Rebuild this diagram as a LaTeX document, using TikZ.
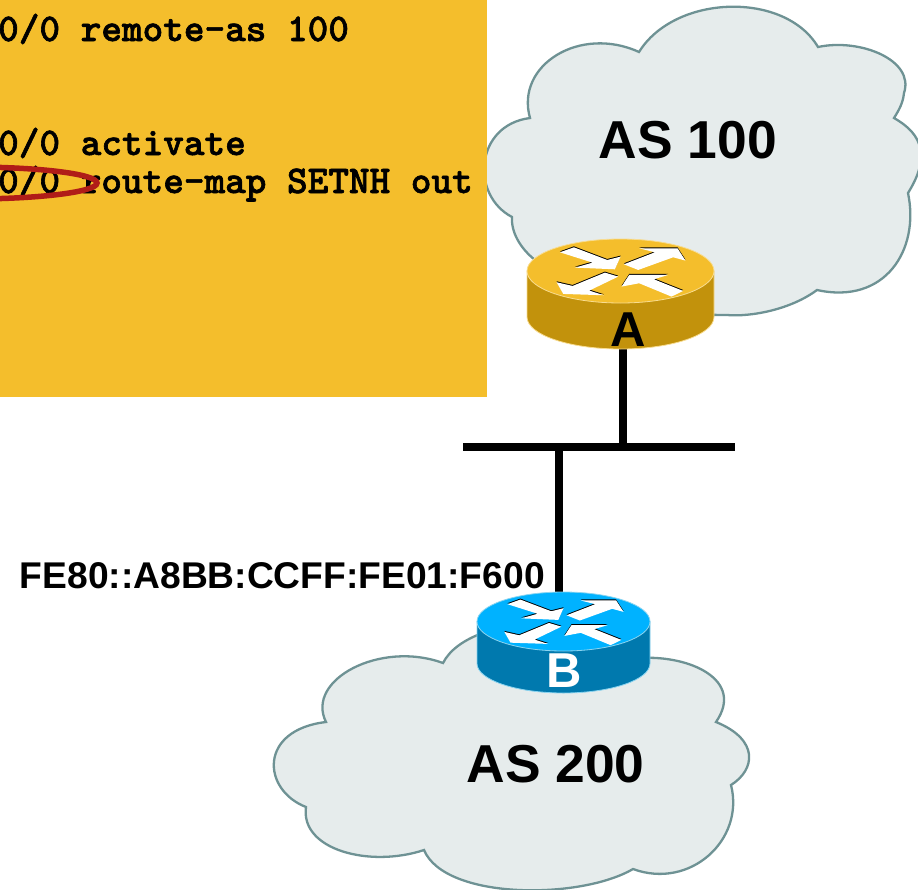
\documentclass[tikz,border=0pt]{standalone}
\usepackage{fontspec}
\setmainfont{Liberation Sans}
\newfontfamily\cmdfont{lmmonolt10-bold.otf}[FakeBold=1.6]
\definecolor{cloudfill}{HTML}{E6ECEC}
\definecolor{cloudline}{HTML}{6E9294}
\definecolor{panelyellow}{HTML}{F4BE2C}
\definecolor{routerAside}{HTML}{C2920C}
\definecolor{routerAedge}{HTML}{F8DC90}
\definecolor{routerBtop}{HTML}{00B2FF}
\definecolor{routerBside}{HTML}{0079AE}
\definecolor{routerBedge}{HTML}{8AD4F0}
\definecolor{ringred}{HTML}{B01C18}
\tikzset{
  cloudshape/.style={fill=cloudfill,draw=cloudline,line width=2.3pt},
  wire/.style={line width=7.5pt},
  bigtext/.style={font=\bfseries\fontsize{53.4}{60}\selectfont,anchor=base,inner sep=0pt},
  routertext/.style={font=\bfseries\fontsize{49}{55}\selectfont,anchor=base,inner sep=0pt},
  cmdtext/.style={font=\cmdfont\fontsize{39.3}{45}\selectfont,anchor=base west,inner sep=0pt},
}
% #1 centre x, #2 centre y, #3 rx, #4 ry, #5 height, #6 top, #7 side, #8 edge
\newcommand{\routerdrum}[8]{
  \path[fill=#7,draw=#8,line width=.8pt] (#1-#3,#2) -- (#1-#3,#2+#5) arc[start angle=180,end angle=360,x radius=#3pt,y radius=#4pt] -- (#1+#3,#2) -- cycle;
  \path[fill=#6,draw=#8,line width=.8pt] (#1,#2) ellipse[x radius=#3pt,y radius=#4pt];
}
\newcommand{\routerarrows}{
  \foreach \col/\off in {black/-3,white/0}{
    \begin{scope}[yshift=-\off*.33pt]
    \fill[\col] (180,97) -- (222,82) -- (322,120) -- (362,110) -- (345,148) -- (225,143) -- (278,128) -- cycle;
    \fill[\col] (372,133) -- (465,97) -- (418,85) -- (533,85) -- (557,122) -- (520,112) -- (415,150) -- cycle;
    \fill[\col] (355,170) -- (315,158) -- (218,198) -- (170,187) -- (190,222) -- (312,226) -- (268,212) -- cycle;
    \fill[\col] (365,200) -- (388,165) -- (505,165) -- (462,178) -- (550,213) -- (515,230) -- (418,190) -- cycle;
    \end{scope}
  }
}
\begin{document}
\begin{tikzpicture}[x=1pt,y=-1pt]
\clip[use as bounding box] (0,0) rectangle (918,889);
% clouds
\draw[cloudshape] (639,52) .. controls (675,-6) and (785,-9) .. (818,47)
  .. controls (860,38) and (915,60) .. (904,93) .. controls (903,103) and (899,110) .. (894,118)
  .. controls (915,130) and (935,150) .. (908,193)
  .. controls (920,250) and (885,305) .. (817,290)
  .. controls (790,310) and (750,317) .. (727,315) .. controls (640,315) and (560,295) .. (535,260)
  .. controls (520,248) and (511,232) .. (512,217)
  .. controls (470,195) and (475,125) .. (530,118)
  .. controls (515,65) and (580,25) .. (639,52) -- cycle;
\draw[cloudshape] (443,663) .. controls (470,610) and (620,610) .. (640,658)
  .. controls (690,655) and (745,680) .. (716,722)
  .. controls (760,740) and (755,770) .. (731,785)
  .. controls (745,840) and (690,890) .. (633,869)
  .. controls (580,900) and (445,900) .. (424,850)
  .. controls (370,868) and (300,850) .. (306,807)
  .. controls (262,790) and (258,730) .. (326,722)
  .. controls (305,680) and (380,640) .. (443,663) -- cycle;
\node[bigtext] (as100) at (688,158) {AS 100};
\node[bigtext] (as200) at (555.5,782) {AS 200};
% config panel
\fill[panelyellow] (0,0) rectangle (487,397);
\node[cmdtext] (cmdremote) at (-2,41) {0/0 remote-as 100};
\node[cmdtext] (cmdactivate) at (-2,155) {0/0 activate};
\node[cmdtext] (cmdroute) at (-2,193) {0/0 route-map SETNH out};
\draw[ringred,line width=5.5pt] (-30,183) ellipse[x radius=127pt,y radius=16pt];
% links
\coordinate (portA) at (623,348);
\coordinate (portB) at (559,592);
\coordinate (busL) at (463,447);
\coordinate (busR) at (735,447);
\coordinate (tapA) at (623,447);
\coordinate (tapB) at (559,447);
\draw[wire] (busL) -- (busR);
\draw[wire] (portA) -- (tapA);
\draw[wire] (portB) -- (tapB);
% routers
\routerdrum{620.5}{271}{93.5}{32}{46}{panelyellow}{routerAside}{routerAedge}
\begin{scope}[shift={(500,220)},x=.333pt,y=-.333pt]
\routerarrows
\end{scope}
\node[routertext] (routerA) at (628,346) {A};
\routerdrum{563.5}{621.5}{86.5}{29.5}{42}{routerBtop}{routerBside}{routerBedge}
\begin{scope}[shift={(452,574.3)},x=.308pt,y=-.308pt]
\routerarrows
\end{scope}
\node[routertext,text=white] (routerB) at (564,687) {B};
\node[font=\bfseries\fontsize{37.2}{42}\selectfont,anchor=base east,inner sep=0pt] (addrB) at (545,588) {FE80::A8BB:CCFF:FE01:F600};
\end{tikzpicture}
\end{document}
